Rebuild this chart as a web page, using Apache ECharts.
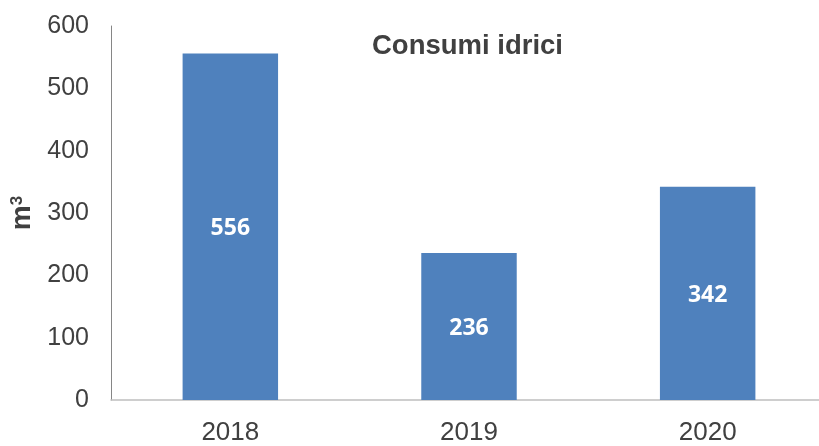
<!DOCTYPE html>
<html>
<head>
<meta charset="utf-8">
<script src="https://cdn.jsdelivr.net/npm/echarts@6/dist/echarts.min.js"></script>
<style>
  html, body { margin: 0; padding: 0; background: #fff; }
  #chart { width: 819px; height: 446px; }
</style>
</head>
<body>
<div id="chart"></div>
<script>
// dati
const years = ['2018', '2019', '2020'];
const consumi = [556, 236, 342];
const yTicks = [0, 100, 200, 300, 400, 500, 600];

const myChart = echarts.init(document.getElementById('chart'));

myChart.setOption({
    animation: false,
    title: {
        text: 'Consumi idrici',
        left: 367,
        top: 27,
        textStyle: {
            fontFamily: 'Liberation Sans, Arial',
            fontSize: 27.5,
            fontWeight: 'bold',
            color: '#404040'
        }
    },
    grid: {
        left: 111,
        right: -8,
        top: 26,
        bottom: 46,
        containLabel: false,
        outerBoundsMode: 'none'
    },
    xAxis: {
        type: 'category',
        data: years,
        axisTick: { show: false },
        axisLine: { lineStyle: { color: '#bfbfbf', width: 1.5 } },
        axisLabel: {
            margin: 20,
            fontFamily: 'Liberation Sans, Arial',
            fontSize: 26,
            color: '#404040'
        }
    },
    yAxis: {
        type: 'value',
        min: yTicks[0],
        max: yTicks[yTicks.length - 1],
        interval: 100,
        name: '{m|m}{s|3}',
        nameLocation: 'middle',
        nameGap: 74,
        nameRotate: 90,
        nameTextStyle: {
            fontFamily: 'Liberation Sans, Arial',
            fontWeight: 'bold',
            color: '#404040',
            rich: {
                m: { fontSize: 28, fontWeight: 'bold', color: '#404040', lineHeight: 28, verticalAlign: 'bottom' },
                s: { fontSize: 17, fontWeight: 'bold', color: '#404040', lineHeight: 28, verticalAlign: 'top' }
            }
        },
        splitLine: { show: false },
        axisTick: { show: false },
        axisLine: { show: true, lineStyle: { color: '#868686', width: 1 } },
        axisLabel: {
            margin: 22,
            fontFamily: 'Liberation Sans, Arial',
            fontSize: 25,
            color: '#404040'
        }
    },
    series: [
        {
            type: 'bar',
            data: consumi,
            barWidth: '40%',
            itemStyle: { color: '#4f81bd' },
            label: {
                show: true,
                position: 'inside',
                offset: [0, 2],
                fontFamily: 'Open Sans',
                fontWeight: 'bold',
                fontSize: 23,
                color: '#ffffff'
            }
        }
    ]
});
</script>
</body>
</html>
